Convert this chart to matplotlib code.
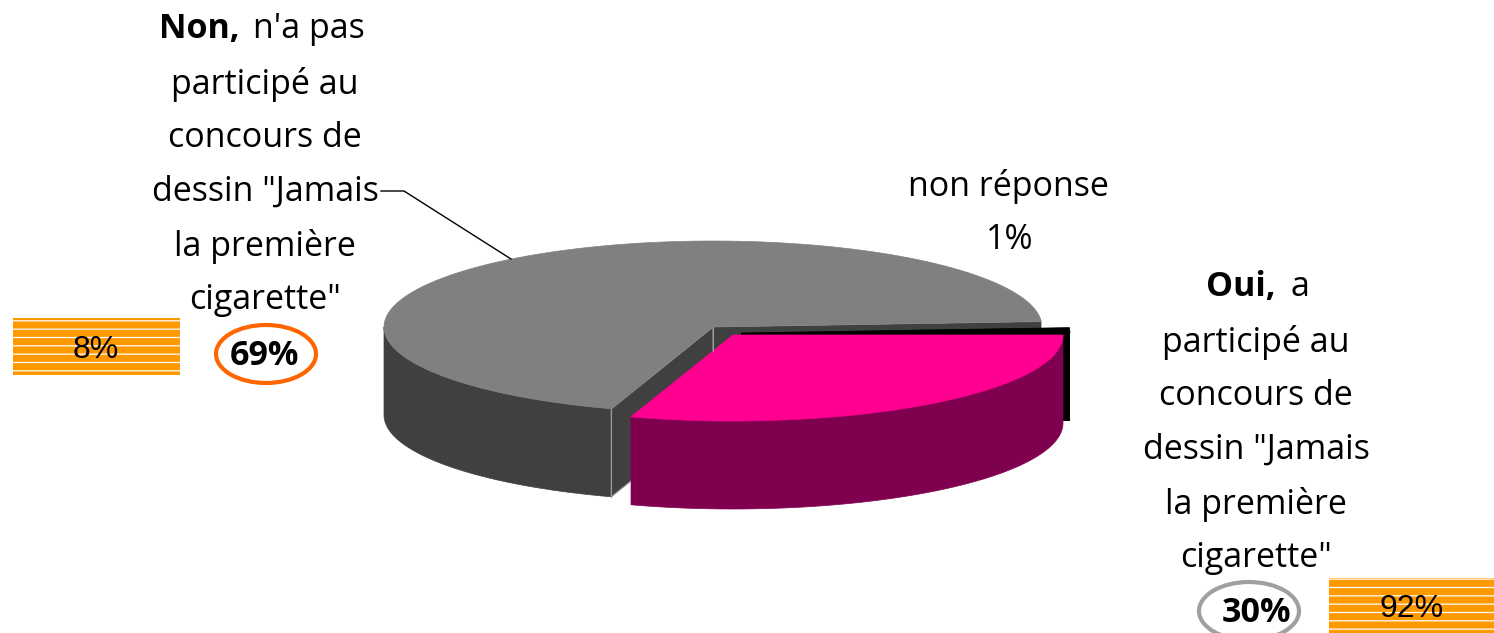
import numpy as np
import matplotlib
matplotlib.use("Agg")
import matplotlib.pyplot as plt
from matplotlib.patches import Polygon, Rectangle, Ellipse

# values
oui_share = 30
nr_share = 1
non_share = 69
non_lines = ["participé au", "concours de", 'dessin "Jamais', "la première", 'cigarette"']
oui_lines = ["participé au", "concours de", 'dessin "Jamais', "la première", 'cigarette"']
box_left_label = "8%"
box_right_label = "92%"

FONT = "Open Sans"
FS = 24.5
plt.rcParams["hatch.linewidth"] = 0.9


def arc(cx, cy, t0, t1, dy=0, rx=329, ry=86):
    t = np.radians(np.linspace(t0, t1, 120))
    return np.column_stack([cx + rx * np.cos(t), cy + ry * np.sin(t) + dy])


def wall(ax, p, color, depth=88, lw=0):
    # flat cut face going down from the line p[0]-p[1]
    pts = [p[0], p[1], (p[1][0], p[1][1] + depth), (p[0][0], p[0][1] + depth)]
    ax.add_patch(Polygon(pts, closed=True, fc=color, ec="#9a9a9a" if lw else color, lw=lw))


fig = plt.figure(figsize=(14.94, 6.33), dpi=100)
ax = fig.add_axes([0, 0, 1, 1])
ax.set_xlim(0, 1494)
ax.set_ylim(633, 0)
ax.axis("off")

# angles clockwise on screen from 3 o'clock
oui_end = oui_share * 3.6
nr_start = -nr_share * 3.6
non_end = oui_end + non_share * 3.6
depth = 88

# grey slice
gc = (713, 327)
edge = arc(*gc, oui_end, oui_end)[0]
back = arc(*gc, nr_start, nr_start)[0]
side = arc(*gc, oui_end, 180)
ax.add_patch(Polygon(np.vstack([side, side[::-1] + [0, depth]]), fc="#404040", ec="#404040", lw=0.5))
wall(ax, [gc, back], "#404040")
wall(ax, [gc, edge], "#404040", lw=0.8)
ax.plot([gc[0], gc[0]], [gc[1], gc[1] + 24], color="#9a9a9a", lw=0.8)
ax.plot([edge[0], edge[0]], [edge[1], edge[1] + depth], color="#9a9a9a", lw=0.8)
ax.add_patch(Polygon(np.vstack([gc, arc(*gc, oui_end, non_end)]), fc="#808080", ec="#808080", lw=0.5))

# black slice
bc = (741, 333)
right = arc(*bc, 0, 0)[0]
wall(ax, [bc, right], "black")
ax.add_patch(Polygon(np.vstack([bc, arc(*bc, nr_start, 0)]), fc="black", ec="black", lw=0.5))

# pink slice
pc = (733, 335)
front = arc(*pc, 0, oui_end, rx=330)
ax.add_patch(Polygon(np.vstack([front, front[::-1] + [0, depth]]), fc="#800050", ec="#800050", lw=0.5))
ax.add_patch(Polygon(np.vstack([pc, front]), fc="#ff0090", ec="#ff0090", lw=0.5))

# leader
ax.plot([381, 404, 511], [191, 191, 259], color="black", lw=1)

# left label
ax.text(240, 29, "Non,", ha="right", va="center", family=FONT, fontsize=FS, fontweight="bold")
ax.text(253, 29, "n'a pas", ha="left", va="center", family=FONT, fontsize=FS)
for y, s in zip([84, 138, 192, 246, 300], non_lines):
    ax.text(265, y, s, ha="center", va="center", family=FONT, fontsize=FS)
ax.add_patch(Ellipse((266, 354), 100, 58, fc="none", ec="#ff6600", lw=3))
ax.text(264, 356, f"{non_share}%", ha="center", va="center", family=FONT, fontsize=FS, fontweight="bold")

# non reponse
ax.text(1008, 186, "non réponse", ha="center", va="center", family=FONT, fontsize=FS)
ax.text(1010, 240, f"{nr_share}%", ha="center", va="center", family=FONT, fontsize=FS)

# right label
ax.text(1276, 287, "Oui,", ha="right", va="center", family=FONT, fontsize=FS, fontweight="bold")
ax.text(1290, 287, "a", ha="left", va="center", family=FONT, fontsize=FS)
for y, s in zip([342, 396, 450, 504, 558], oui_lines):
    ax.text(1256, y, s, ha="center", va="center", family=FONT, fontsize=FS)
ax.add_patch(Ellipse((1249, 611), 100, 58, fc="none", ec="#a0a0a0", lw=3))
ax.text(1256, 613, f"{oui_share}%", ha="center", va="center", family=FONT, fontsize=FS, fontweight="bold")

# striped boxes
ax.add_patch(Rectangle((13, 318), 167, 57, fc="#ff9900", ec="white", hatch="--", lw=0))
ax.text(96, 350, box_left_label, ha="center", va="center", family="Liberation Sans", fontsize=23)
ax.add_patch(Rectangle((1329, 578), 165, 55, fc="#ff9900", ec="white", hatch="--", lw=0))
ax.text(1412, 609, box_right_label, ha="center", va="center", family="Liberation Sans", fontsize=23)

fig.savefig("out.png", dpi=100)
